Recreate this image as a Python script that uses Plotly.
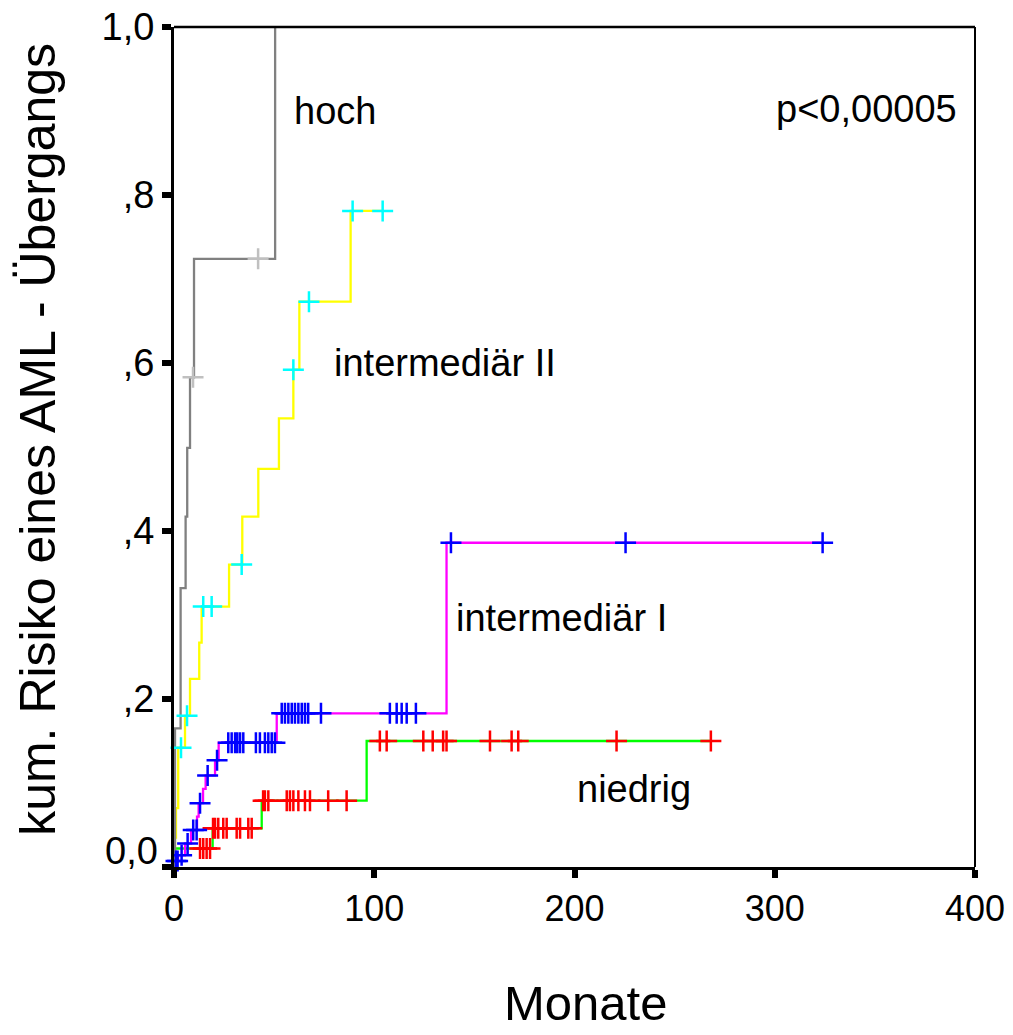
import numpy as np
import plotly.graph_objects as go

# ---------------- data ----------------
# hoch
hoch_t = [0, 0.5, 3.3, 5.8, 6.6, 8.0, 10.0, 50.5]
hoch_v = [0, 0.165, 0.332, 0.417, 0.499, 0.583, 0.724, 1.0]
hoch_cens_t = [9.5, 42.0]

# intermediär II
int2_t = [0, 0.5, 1.0, 2.1, 5.5, 8.0, 12.6, 13.8, 27.5, 34.1, 42.1, 52.4, 59.6, 62.6, 88.2, 104.2]
int2_v = [0, 0.035, 0.070, 0.142, 0.180, 0.224, 0.267, 0.310, 0.360, 0.417, 0.474, 0.534, 0.592, 0.673, 0.781, 0.781]
int2_cens_t = [3.5, 6.5, 14.6, 18.8, 33.8, 59.6, 67.4, 89.2, 104.2]

# intermediär I
int1_t = [0, 0.5, 2.0, 5.5, 8.5, 11.5, 12.3, 14.5, 15.8, 20.5, 22.3, 51.3, 136.1, 323.9]
int1_v = [0, 0.007, 0.014, 0.028, 0.044, 0.060, 0.076, 0.093, 0.109, 0.127, 0.148, 0.183, 0.386, 0.386]
int1_cens_t = [1.0, 1.8, 3.8, 6.8, 9.6, 11.3, 13.0, 16.8, 21.5,
               27.1, 28.8, 30.5, 31.6, 33.0, 34.6, 40.9, 42.9, 45.4, 47.1, 48.8, 50.4,
               53.8, 55.4, 57.1, 58.8, 60.4, 62.1, 63.8, 65.4, 67.0, 73.4,
               107.8, 111.2, 113.7, 116.2, 120.8,
               138.3, 225.5, 323.9]

# niedrig
nied_t = [0, 0.5, 19.3, 43.8, 96.2, 268.1]
nied_v = [0, 0.022, 0.046, 0.079, 0.150, 0.150]
nied_cens_t = [13.0, 14.6, 16.3, 18.0,
               19.5, 20.5, 22.1, 24.6, 26.3, 31.3, 33.0, 37.1, 38.8,
               44.5, 45.4, 47.1, 56.3, 57.9, 59.6, 62.1, 65.4, 67.9, 77.0, 86.2,
               102.8, 106.2, 124.5, 129.2, 134.4, 136.1, 157.8, 168.6, 171.9, 221.0, 268.1]

x_ticks = [0, 100, 200, 300, 400]
y_ticks = [0, 0.2, 0.4, 0.6, 0.8, 1.0]
y_ticktext = ["", ",2", ",4", ",6", ",8", "1,0"]


def level_at(times, values, q):
    idx = np.searchsorted(np.asarray(times), np.asarray(q), side="right") - 1
    return list(np.asarray(values)[idx])


FONT = "Arial, Liberation Sans, sans-serif"
fig = go.Figure()

groups = [
    (nied_t, nied_v, nied_cens_t, "#00ff00", "#ff0000"),
    (int1_t, int1_v, int1_cens_t, "#ff00ff", "#0000ff"),
    (int2_t, int2_v, int2_cens_t, "#ffff00", "#00ffff"),
    (hoch_t, hoch_v, hoch_cens_t, "#808080", "#c0c0c0"),
]
for t, v, ct, lc, mc in groups:
    fig.add_trace(go.Scatter(x=t, y=v, mode="lines", line=dict(color=lc, width=2.3, shape="hv"),
                             cliponaxis=False, showlegend=False, hoverinfo="skip"))
for t, v, ct, lc, mc in groups:
    fig.add_trace(go.Scatter(x=ct, y=level_at(t, v, ct), mode="markers",
                             marker=dict(symbol="cross-thin", size=15, line=dict(color=mc, width=2.5)),
                             cliponaxis=False, showlegend=False, hoverinfo="skip"))

ann_font = dict(family=FONT, size=38, color="black")
annotations = [
    dict(x=59.0, y=0.900, text="hoch", xanchor="left", yanchor="middle"),
    dict(x=392.0, y=0.902, text="p<0,00005", xanchor="right", yanchor="middle"),
    dict(x=78.8, y=0.600, text="intermediär II", xanchor="left", yanchor="middle"),
    dict(x=139.8, y=0.297, text="intermediär I", xanchor="left", yanchor="middle"),
    dict(x=200.2, y=0.093, text="niedrig", xanchor="left", yanchor="middle"),
]
for a in annotations:
    a.update(xref="x", yref="y", showarrow=False, font=ann_font)

annotations += [
    dict(xref="paper", yref="paper", x=-0.018, y=0.019, text="0,0", xanchor="right", yanchor="middle",
         showarrow=False, font=dict(family=FONT, size=38, color="black")),
    dict(xref="paper", yref="paper", x=-0.17, y=0.5095, text="kum. Risiko eines AML - Übergangs",
         textangle=-90, xanchor="center", yanchor="middle", showarrow=False,
         font=dict(family=FONT, size=50, color="black")),
    dict(xref="paper", yref="paper", x=(585 - 174) / 801, y=(867 - 1003) / 840, text="Monate",
         xanchor="center", yanchor="middle", showarrow=False,
         font=dict(family=FONT, size=49, color="black")),
]

fig.update_layout(
    width=1013, height=1035,
    margin=dict(l=174, r=38, t=27, b=168, pad=0),
    paper_bgcolor="white", plot_bgcolor="white",
    annotations=annotations,
    shapes=[
        dict(type="line", xref="paper", yref="paper", x0=0, x1=1, y0=1, y1=1, line=dict(color="black", width=2.5)),
        dict(type="line", xref="paper", yref="paper", x0=1, x1=1, y0=0, y1=1, line=dict(color="black", width=2)),
    ],
)
fig.update_xaxes(range=[0, 400], tickvals=x_ticks, ticktext=[str(v) for v in x_ticks],
                 showgrid=False, zeroline=False, showline=True, linecolor="black", linewidth=3,
                 ticks="outside", ticklen=8, tickwidth=6, tickcolor="black",
                 tickfont=dict(family=FONT, size=36, color="black"), automargin=False)
fig.update_yaxes(range=[0, 1], tickvals=y_ticks, ticktext=y_ticktext,
                 showgrid=False, zeroline=False, showline=True, linecolor="black", linewidth=3,
                 ticks="outside", ticklen=9, tickwidth=6, tickcolor="black",
                 tickfont=dict(family=FONT, size=38, color="black"), automargin=False)

fig.write_html("out.html")
